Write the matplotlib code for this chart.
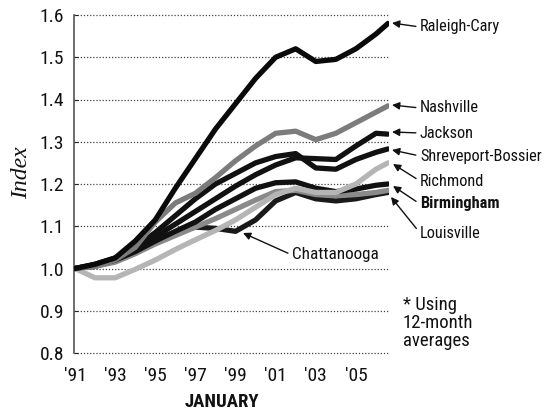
import matplotlib
matplotlib.use('Agg')
import matplotlib.pyplot as plt
from matplotlib import font_manager as fm

years = [1991, 1992, 1993, 1994, 1995, 1996, 1997, 1998, 1999, 2000,
         2001, 2002, 2003, 2004, 2005, 2006, 2006.6]

raleigh = [1.00, 1.01, 1.025, 1.065, 1.115, 1.19, 1.26, 1.33, 1.39, 1.45,
           1.50, 1.52, 1.49, 1.495, 1.52, 1.555, 1.58]
nashville = [1.00, 1.005, 1.02, 1.05, 1.11, 1.155, 1.178, 1.215, 1.255, 1.29,
             1.32, 1.325, 1.305, 1.32, 1.345, 1.37, 1.385]
jackson = [1.00, 1.008, 1.02, 1.045, 1.075, 1.105, 1.135, 1.165, 1.195, 1.222,
           1.245, 1.262, 1.26, 1.258, 1.29, 1.32, 1.318]
shreveport = [1.00, 1.01, 1.025, 1.05, 1.085, 1.125, 1.165, 1.20, 1.225, 1.25,
              1.265, 1.272, 1.238, 1.235, 1.258, 1.275, 1.283]
richmond = [1.00, 0.978, 0.978, 0.998, 1.02, 1.045, 1.068, 1.09, 1.115, 1.145,
            1.175, 1.19, 1.18, 1.18, 1.20, 1.235, 1.25]
birmingham = [1.00, 1.008, 1.02, 1.04, 1.065, 1.088, 1.11, 1.14, 1.165, 1.19,
              1.203, 1.205, 1.19, 1.182, 1.188, 1.197, 1.20]
louisville = [1.00, 1.005, 1.015, 1.035, 1.058, 1.078, 1.098, 1.118, 1.14, 1.162,
              1.182, 1.185, 1.175, 1.172, 1.175, 1.18, 1.185]
chattanooga = [1.00, 1.005, 1.02, 1.045, 1.07, 1.085, 1.098, 1.095, 1.088, 1.115,
               1.16, 1.18, 1.165, 1.16, 1.165, 1.175, 1.18]

xtick_years = [1991, 1993, 1995, 1997, 1999, 2001, 2003, 2005]
xtick_labels = ["'91", "'93", "'95", "'97", "'99", "'01", "'03", "'05"]
yticks = [0.8, 0.9, 1.0, 1.1, 1.2, 1.3, 1.4, 1.5, 1.6]

# ---- pick a condensed sans font if one is installed ----
entries = fm.fontManager.ttflist
names = {f.name for f in entries}
FONT = None
for cand in ['Liberation Sans Narrow', 'Roboto Condensed', 'Open Sans Condensed',
             'Noto Sans Condensed', 'DejaVu Sans Condensed', 'Arial Narrow']:
    if cand in names:
        FONT = dict(family=[cand, 'DejaVu Sans'], stretch='normal', scale=1.0)
        break
if FONT is None:
    if any(f.name == 'DejaVu Sans' and str(f.stretch) in ('condensed', 'semi-condensed')
           for f in entries):
        FONT = dict(family=['DejaVu Sans'], stretch='condensed', scale=0.95)
    elif 'Roboto' in names:
        FONT = dict(family=['Roboto', 'DejaVu Sans'], stretch='normal', scale=0.9)
    else:
        FONT = dict(family=['Liberation Sans', 'DejaVu Sans'], stretch='normal', scale=0.9)

FAM = FONT['family']
STR = FONT['stretch']
SC = FONT['scale']
plt.rcParams['font.family'] = FAM
plt.rcParams['font.stretch'] = STR

W, H = 547, 412
fig = plt.figure(figsize=(W / 100, H / 100), dpi=100)
ax = fig.add_axes([74 / W, 1 - 353 / H, (389 - 74) / W, (353 - 15) / H])

series = [
    ('Chattanooga', chattanooga, '#1a1a1a', 2),
    ('Louisville', louisville, '#8a8a8a', 2.1),
    ('Birmingham', birmingham, '#111111', 2.2),
    ('Richmond', richmond, '#b5b5b5', 2.3),
    ('Shreveport-Bossier', shreveport, '#111111', 2.4),
    ('Jackson', jackson, '#111111', 2.5),
    ('Nashville', nashville, '#7c7c7c', 2.6),
    ('Raleigh-Cary', raleigh, '#0a0a0a', 2.7),
]
for name, vals, col, z in series:
    ax.plot(years, vals, color=col, lw=3.8, solid_joinstyle='round',
            solid_capstyle='round', zorder=z)

ax.set_xlim(1990.95, 2006.65)
ax.set_ylim(0.8, 1.6)
ax.set_yticks(yticks)
ax.set_yticklabels([f'{v:.1f}' for v in yticks])
ax.set_xticks(xtick_years)
ax.set_xticklabels(xtick_labels)
ax.tick_params(axis='y', direction='in', length=3, width=0.8, pad=7,
               labelsize=14 * SC, colors='#222222')
ax.tick_params(axis='x', length=0, pad=10, labelsize=14 * SC, colors='#222222')
for lab in ax.get_xticklabels() + ax.get_yticklabels():
    lab.set_color('#111111')
    lab.set_fontfamily(FAM)
    lab.set_fontstretch(STR)

for v in yticks:
    ax.axhline(v, color='#444444', lw=0.9, ls=(0, (1, 1.5)), zorder=1,
               clip_on=False)

for s in ['top', 'right', 'bottom']:
    ax.spines[s].set_visible(False)
ax.spines['left'].set_color('#555555')
ax.spines['left'].set_linewidth(1.2)


def px2x(px):
    return 1990.95 + (px - 74) / ((389 - 74) / (2006.65 - 1990.95))


def py2y(py):
    return 1.6 - (py - 15) / (353 - 15) * 0.8


labels = [
    ('Raleigh-Cary', 392, 23, 27, 'normal'),
    ('Nashville', 392, 105, 108, 'normal'),
    ('Jackson', 392, 132, 133, 'normal'),
    ('Shreveport-Bossier', 392, 150, 156, 'normal'),
    ('Richmond', 393, 164, 181, 'normal'),
    ('Birmingham', 393, 186, 204, 'bold'),
    ('Louisville', 391, 197, 233, 'normal'),
]
for text, tipx, tipy, ty, weight in labels:
    ax.annotate(text, xy=(px2x(tipx), py2y(tipy)), xytext=(px2x(420), py2y(ty)),
                ha='left', va='center', fontsize=11.8 * SC, fontweight=weight,
                family=FAM, fontstretch=STR,
                color='#111111', annotation_clip=False,
                arrowprops=dict(arrowstyle='-|>', color='#111111', lw=1.0,
                                mutation_scale=11, shrinkA=1, shrinkB=0,
                                relpos=(0, 0.5)))

ax.annotate('Chattanooga', xy=(px2x(243), py2y(233)), xytext=(px2x(292), py2y(255)),
            ha='left', va='center', fontsize=12.3 * SC, color='#111111',
            family=FAM, fontstretch=STR, annotation_clip=False,
            arrowprops=dict(arrowstyle='-|>', color='#111111', lw=1.0,
                            mutation_scale=11, shrinkA=1, shrinkB=0,
                            relpos=(0, 0.5)))

fig.text(403 / W, 1 - 323 / H, '* Using\n12-month\naverages', ha='left',
         va='center', fontsize=13.5 * SC, color='#111111', linespacing=1.0,
         family=FAM, fontstretch=STR)
fig.text(222 / W, 1 - 402 / H, 'JANUARY', ha='center', va='center',
         fontsize=13.5 * SC, fontweight='bold', color='#111111',
         family=FAM, fontstretch=STR)
fig.text(22 / W, 1 - 173 / H, 'Index', ha='center', va='center', rotation=90,
         fontsize=17, style='italic', family=['Liberation Serif', 'DejaVu Serif'],
         color='#111111')

fig.savefig('out.png', dpi=100, facecolor='white')
